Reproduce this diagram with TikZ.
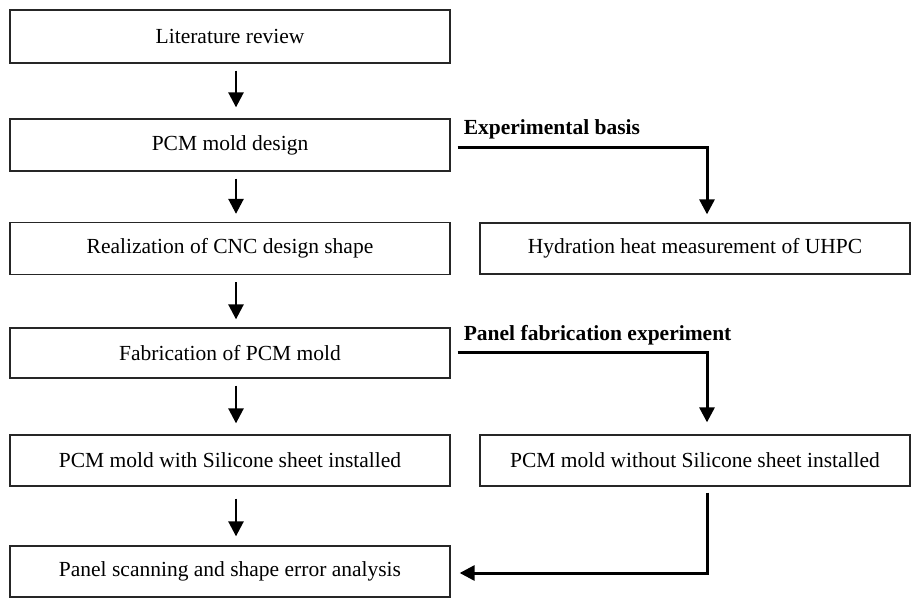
\documentclass[tikz,border=0pt]{standalone}
\usepackage{fontspec}
\setmainfont{Liberation Serif}
\usetikzlibrary{arrows.meta}
\begin{document}
\begin{tikzpicture}[x=1pt,y=-1pt,
  box/.style={draw=black!85, line width=1.3pt, rectangle, inner sep=0pt, font=\fontsize{21.5}{24}\selectfont},
  lbox/.style={box, minimum width=440pt, minimum height=52pt},
  rbox/.style={box, minimum width=430pt, minimum height=51pt},
  arr/.style={line width=2.6pt, -{Triangle[length=15pt,width=15pt]}},
  conn/.style={line width=3pt, -{Triangle[length=15pt,width=15pt]}},
  lab/.style={font=\fontsize{21.5}{24}\selectfont\bfseries, inner sep=0pt, anchor=base west}]
\useasboundingbox (0,0) rectangle (912,599);
\node[lbox, minimum height=53pt] (b1) at (230,36.5) {Literature review};
\node[lbox] (b2) at (230,145) {PCM mold design};
\node[lbox] (b3) at (230,248.5) {Realization of CNC design shape};
\node[lbox, minimum height=50pt] (b4) at (230,353) {Fabrication of PCM mold};
\node[lbox, minimum height=51pt] (b5) at (230,460.5) {PCM mold with Silicone sheet installed};
\node[lbox, minimum height=51pt] (b6) at (230,571.5) {Panel scanning and shape error analysis};
\node[rbox] (r3) at (695,248.5) {Hydration heat measurement of UHPC};
\node[rbox] (r5) at (695,460.5) {PCM mold without Silicone sheet installed};
\node[lab] (l1) at ([xshift=13pt,yshift=11pt]b2.east) {Experimental basis};
\node[lab] (l2) at ([xshift=13pt,yshift=13pt]b4.east) {Panel fabrication experiment};
\draw[arr] ([xshift=6pt,yshift=-7pt]b1.south) -- ([xshift=6pt,yshift=11pt]b2.north);
\draw[arr] ([xshift=6pt,yshift=-7pt]b2.south) -- ([xshift=6pt,yshift=8pt]b3.north);
\draw[arr] ([xshift=6pt,yshift=-7pt]b3.south) -- ([xshift=6pt,yshift=8pt]b4.north);
\draw[arr] ([xshift=6pt,yshift=-7pt]b4.south) -- ([xshift=6pt,yshift=11pt]b5.north);
\draw[arr] ([xshift=6pt,yshift=-12pt]b5.south) -- ([xshift=6pt,yshift=9pt]b6.north);
\draw[conn] ([xshift=7pt,yshift=-2pt]b2.east) -| ([xshift=12pt,yshift=8pt]r3.north);
\draw[conn] ([xshift=7pt,yshift=1pt]b4.east) -| ([xshift=12pt,yshift=12pt]r5.north);
\draw[conn] ([xshift=12pt,yshift=-6pt]r5.south) |- ([xshift=9pt,yshift=-1.5pt]b6.east);
\end{tikzpicture}
\end{document}
